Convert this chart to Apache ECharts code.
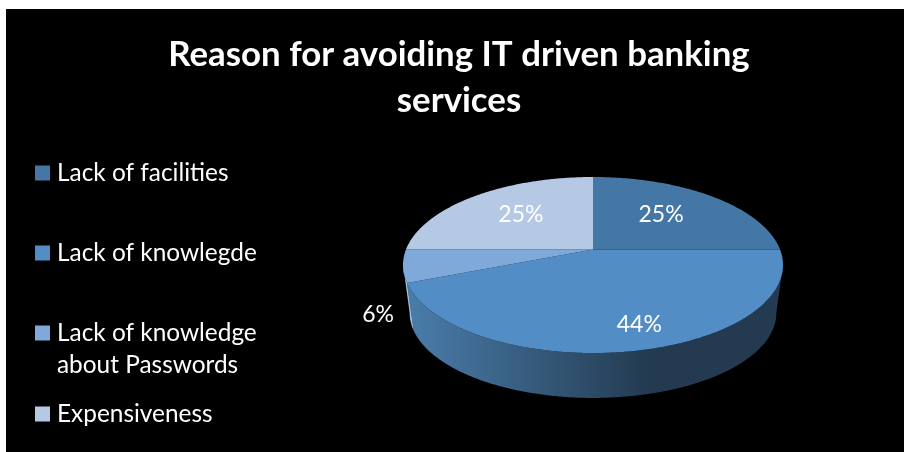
<!DOCTYPE html>
<html>
<head>
<meta charset="utf-8">
<style>html,body{margin:0;padding:0;background:#fff}#chart{width:904px;height:452px}</style>
<script src="https://cdn.jsdelivr.net/npm/echarts@6/dist/echarts.min.js"></script>
</head>
<body>
<div id="chart"></div>
<script>
// Survey results: share of respondents per reason
var categories = ['Lack of facilities', 'Lack of knowlegde', 'Lack of knowledge about Passwords', 'Expensiveness'];
var shares = [25, 44, 6, 25];
var sliceColors = ['#4577a6', '#528dc5', '#7fa9d9', '#b5c9e5'];
var wallColors = [null, ['#4a7dab', '#233a50'], ['#a3bcd9', '#7f9dbf'], null];
var titleLines = ['Reason for avoiding IT driven banking', 'services'];

var FONT = 'Lato, Carlito, sans-serif';

// Tilted-disc geometry: an ellipse seen in perspective, so the hub sits above its centre
var CX = 593, CY = 265, RX = 190, RY = 88, TILT = 0.176;
var BASE_CY = 313, BASE_SCALE = 0.965;
var FRONT_START = 100, FRONT_END = 260;

// Disc point for a clockwise angle from 12 o'clock, at radial fraction r; level 1 is the base
function project(deg, r, level) {
  var a = deg * Math.PI / 180;
  var u = Math.sin(a) * r, v = -Math.cos(a) * r;
  var d = 1 - TILT * v;
  var x = RX * Math.sqrt(1 - TILT * TILT) * u / d;
  var y = (RY * v - RY * TILT) / d;
  return level ? [CX + x * BASE_SCALE, BASE_CY + y * BASE_SCALE] : [CX + x, CY + y];
}

function arcPoints(from, to, level) {
  var pts = [], n = Math.max(2, Math.ceil(Math.abs(to - from) * 2));
  for (var i = 0; i <= n; i++) pts.push(project(from + (to - from) * i / n, 1, level));
  return pts;
}

// Radial fraction and pixel nudge of each percentage label, relative to its slice's mid-angle
var labelPlacement = [[0.55, 0, -4], [0.62, 22, 17], [1.0, -25, 49], [0.55, -4, -4]];

var total = shares.reduce(function (s, v) { return s + v; }, 0);

function renderSlice(index) {
  return function (params, api) {
    var value = api.value(0);
    var before = shares.slice(0, index).reduce(function (s, v) { return s + v; }, 0);
    var start = before / total * 360;
    var end = (before + value) / total * 360;
    var children = [];

    // Front wall, only where the slice faces the viewer
    var wallFrom = Math.max(start, FRONT_START), wallTo = Math.min(end, FRONT_END);
    if (wallFrom < wallTo && wallColors[index]) {
      var wall = arcPoints(wallFrom, wallTo, 0).concat(arcPoints(wallTo, wallFrom, 1));
      children.push({
        type: 'polygon',
        shape: { points: wall },
        style: {
          fill: new echarts.graphic.LinearGradient(408, 0, 650, 0, [
            { offset: 0, color: wallColors[index][0] },
            { offset: 1, color: wallColors[index][1] }
          ], true)
        }
      });
    }

    // Top face
    children.push({
      type: 'polygon',
      shape: { points: [project(0, 0, 0)].concat(arcPoints(start, end, 0)) },
      style: { fill: sliceColors[index] }
    });

    // Percentage label
    var place = labelPlacement[index];
    var at = project((start + end) / 2, place[0], 0);
    children.push({
      type: 'text',
      z2: 10,
      style: {
        text: value + '%',
        x: at[0] + place[1],
        y: at[1] + place[2],
        align: 'center',
        verticalAlign: 'middle',
        fill: '#ffffff',
        font: '23px ' + FONT
      }
    });
    return { type: 'group', children: children };
  };
}

var series = categories.map(function (name, i) {
  return {
    type: 'custom',
    name: name,
    coordinateSystem: 'none',
    itemStyle: { color: sliceColors[i] },
    data: [[shares[i]]],
    renderItem: renderSlice(i),
    animation: false
  };
});

var legendTops = [157, 237, 285, 398];
var legends = categories.map(function (name, i) {
  return {
    left: 35,
    top: legendTops[i],
    orient: 'vertical',
    data: [{ name: name, icon: 'rect' }],
    itemWidth: 15,
    itemHeight: 15,
    itemGap: 0,
    selectedMode: false,
    padding: 0,
    formatter: function (n) {
      // Keep the swatch level with the first line of the wrapped entry
      return n === categories[2] ? '\nLack of knowledge\nabout Passwords' : n;
    },
    textStyle: { color: '#ffffff', fontFamily: FONT, fontSize: 24.4, lineHeight: 32, padding: [0, 0, 0, 2] }
  };
});

var chart = echarts.init(document.getElementById('chart'), null, { renderer: 'canvas' });
chart.setOption({
  backgroundColor: '#ffffff',
  animation: false,
  title: {
    text: titleLines.join('\n'),
    left: 459,
    top: 32,
    textAlign: 'center',
    padding: 0,
    textStyle: { color: '#ffffff', fontFamily: FONT, fontWeight: 'bold', fontSize: 34.8, lineHeight: 46 }
  },
  graphic: [{
    type: 'rect',
    z: -10,
    silent: true,
    shape: { x: 6, y: 9, width: 898, height: 443 },
    style: { fill: '#000000' }
  }],
  legend: legends,
  series: series
});
</script>
</body>
</html>
